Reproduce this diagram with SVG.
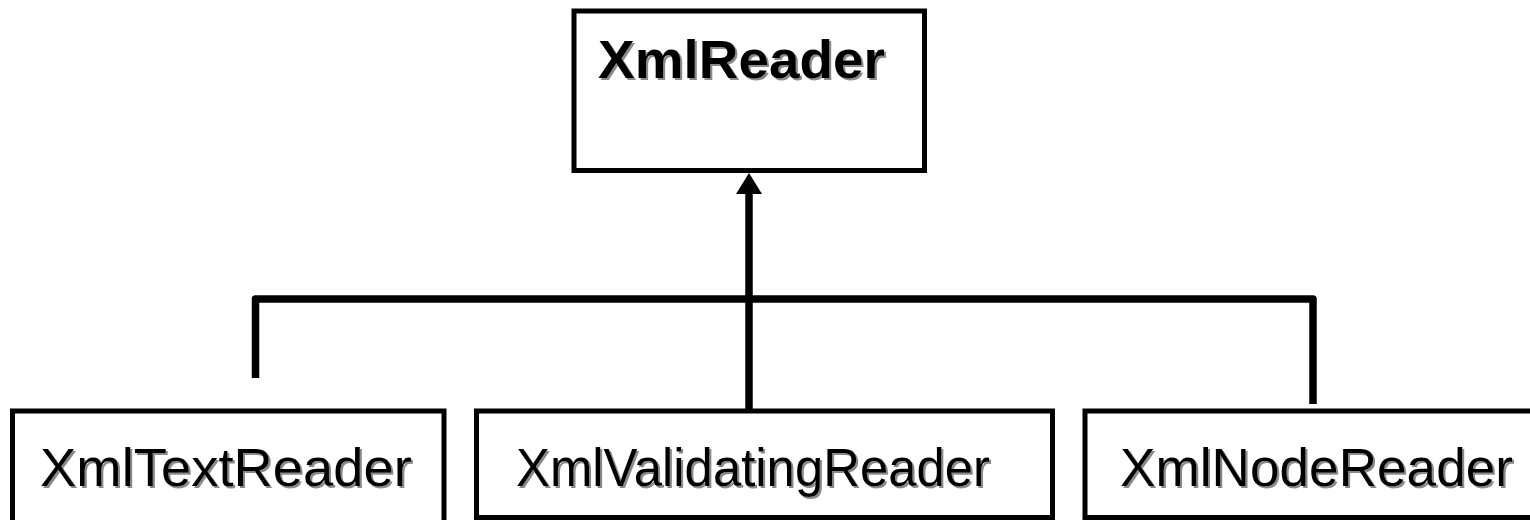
<svg xmlns="http://www.w3.org/2000/svg" width="1530" height="520" viewBox="0 0 1530 520">
<style>
.box{fill:#fff;stroke:#000;stroke-width:5}
.lbl{font-family:"Liberation Sans",Arial,sans-serif;font-size:53px;fill:#000;filter:url(#sh)}
.bold{font-weight:bold}
.conn{fill:none;stroke:#000;stroke-width:7.5;stroke-linejoin:round}
</style>
<defs>
<filter id="sh" x="-5%" y="-20%" width="110%" height="140%">
<feDropShadow dx="2" dy="2" stdDeviation="0.6" flood-color="#8a8a8a" flood-opacity="1"/>
</filter>
</defs>
<g id="connectors">
<path class="conn" d="M255.5 378 V299 H1313 V404"/>
<path class="conn" d="M749 411 V190"/>
<polygon points="749,173 736,194 762,194" fill="#000"/>
</g>
<g id="XmlReader">
<rect class="box" x="574" y="11" width="350.5" height="159.5"/>
<text class="lbl bold" x="598" y="78" textLength="287" lengthAdjust="spacingAndGlyphs">XmlReader</text>
</g>
<g id="XmlTextReader">
<rect class="box" x="12.5" y="411" width="431.5" height="120"/>
<text class="lbl" x="40" y="486" textLength="372" lengthAdjust="spacingAndGlyphs">XmlTextReader</text>
</g>
<g id="XmlValidatingReader">
<rect class="box" x="476.5" y="411" width="576" height="106.5"/>
<text class="lbl" x="516" y="486" textLength="474" lengthAdjust="spacingAndGlyphs">XmlValidatingReader</text>
</g>
<g id="XmlNodeReader">
<rect class="box" x="1085" y="411" width="460" height="106.5"/>
<text class="lbl" x="1120" y="486" textLength="393" lengthAdjust="spacingAndGlyphs">XmlNodeReader</text>
</g>
</svg>
